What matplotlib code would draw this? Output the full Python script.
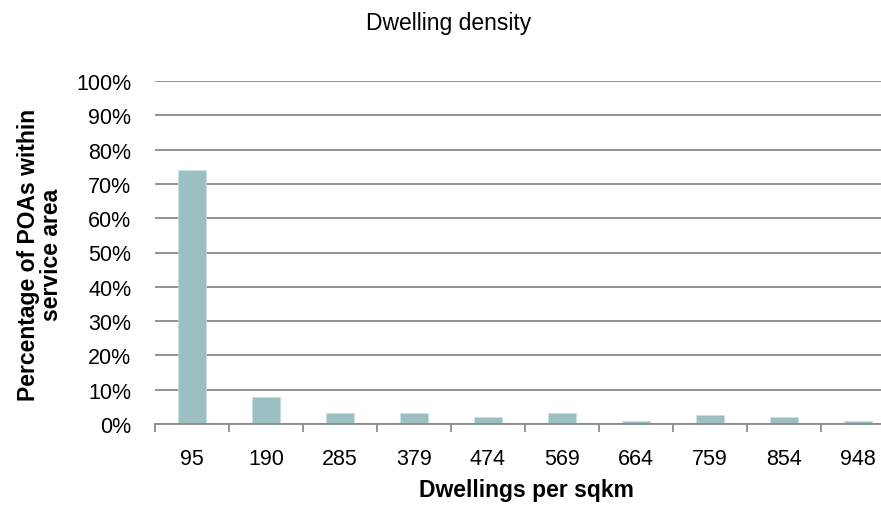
import matplotlib
matplotlib.use("Agg")
import matplotlib.pyplot as plt
from matplotlib.ticker import PercentFormatter

plt.rcParams["font.family"] = ["Liberation Sans", "DejaVu Sans"]

categories = ["95", "190", "285", "379", "474", "569", "664", "759", "854", "948"]
values = [74.1, 7.8, 3.1, 3.1, 2.0, 3.1, 0.9, 2.6, 2.0, 0.9]
y_ticks = [0, 10, 20, 30, 40, 50, 60, 70, 80, 90, 100]

W, H = 881, 506
fig = plt.figure(figsize=(W / 100, H / 100), dpi=100)
ax = fig.add_axes([155 / W, 81 / H, 740 / W, 343 / H])

x = range(len(categories))
ax.bar(x, values, width=0.39, color="#9bbfc3", edgecolor="#c9dfe1", linewidth=0.6, zorder=3)

ax.set_xlim(-0.5, len(categories) - 0.5)
ax.set_ylim(0, 100)
ax.set_yticks(y_ticks)
ax.yaxis.set_major_formatter(PercentFormatter(decimals=0))
ax.set_xticks(list(x))
ax.set_xticklabels(categories)

ax.grid(axis="y", color="#8a8a8a", linewidth=1.3, zorder=0)
for s in ["top", "right", "left"]:
    ax.spines[s].set_visible(False)
ax.spines["bottom"].set_color("#8a8a8a")
ax.spines["bottom"].set_linewidth(1.3)
ax.spines["bottom"].set_zorder(4)

# category boundaries marked by short ticks below the axis
ax.set_xticks([i - 0.5 for i in range(len(categories) + 1)], minor=True)
ax.tick_params(axis="x", which="major", length=0, pad=17, labelsize=15.5)
ax.tick_params(axis="x", which="minor", length=6, width=1.3, color="#8a8a8a", direction="out")
ax.tick_params(axis="y", length=0, pad=17, labelsize=15.5)

fig.text(526 / W, 1 - 491 / H, "Dwellings per sqkm", ha="center", va="center",
         fontsize=16.5, fontweight="bold")
fig.text(40 / W, 1 - 255 / H, "Percentage of POAs within\nservice area", rotation=90,
         ha="center", va="center", fontsize=16.5, fontweight="bold", linespacing=1.0)
fig.text(449 / W, 1 - 24 / H, "Dwelling density", ha="center", va="center", fontsize=16.5)

fig.savefig("out.png", dpi=100)
